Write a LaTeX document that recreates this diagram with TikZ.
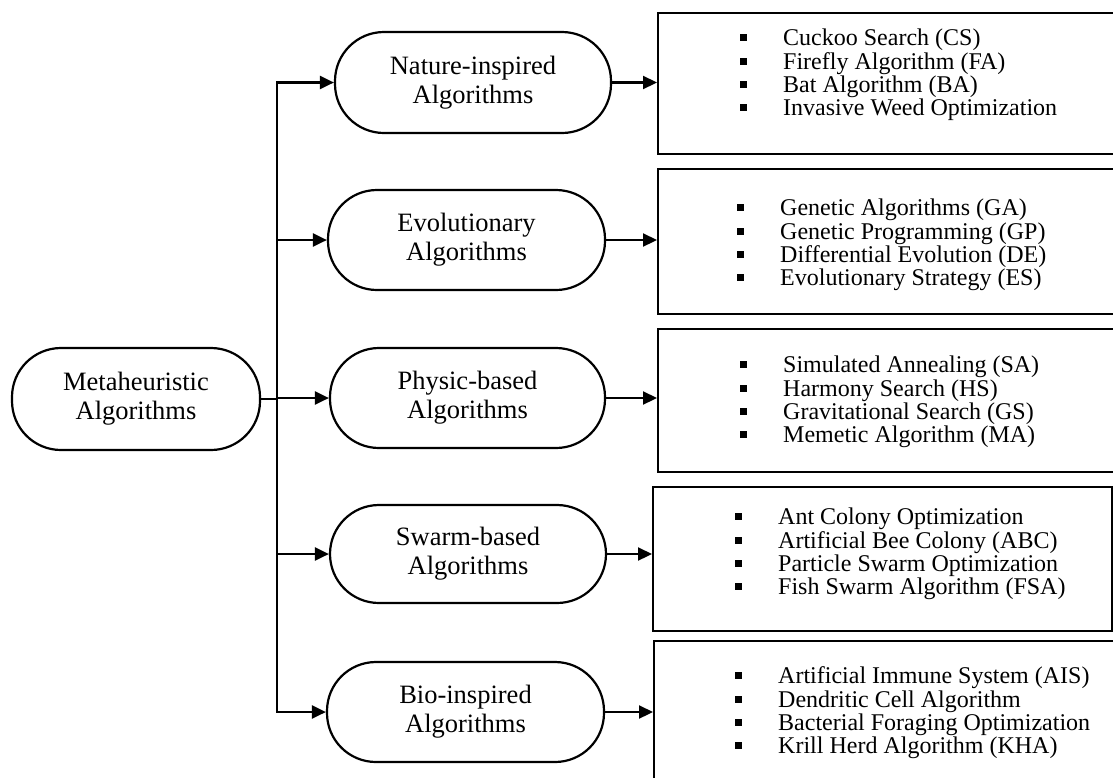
\documentclass[tikz,border=0pt]{standalone}
\usepackage{fontspec}
\setmainfont{Liberation Serif}
\usetikzlibrary{arrows.meta}

% one list entry: a small filled square followed by the text
\newcommand{\sqitem}[1]{\makebox[43pt][l]{\raisebox{4.5pt}{\rule{6.5pt}{7pt}}}#1}

\begin{document}
\begin{tikzpicture}[x=1pt,y=-1pt,
  pill/.style={draw, line width=2.2pt, rounded corners=49pt,
    minimum width=276pt, minimum height=100pt, inner sep=0pt,
    align=center, font=\fontsize{26.5}{29}\selectfont},
  listbox/.style={draw, line width=2.2pt, anchor=north west, inner sep=0pt},
  items/.style={anchor=west, align=left, inner sep=0pt,
    font=\fontsize{24}{23.3}\selectfont},
  tip/.tip={Triangle[length=14pt,width=13pt]},
  link/.style={line width=2.2pt},
  arr/.style={link, -tip}]

\useasboundingbox (0,0) rectangle (1113,777);
\clip (0,0) rectangle (1113,777);

% root and category nodes
\node[pill, minimum width=248pt, minimum height=102pt] (meta) at (136,399) {Metaheuristic\\Algorithms};
\node[pill, minimum height=101pt] (nat) at (473,82.5) {Nature-inspired\\Algorithms};
\node[pill, minimum width=277pt] (evo) at (466.5,240) {Evolutionary\\Algorithms};
\node[pill, minimum width=275pt] (phy) at (467.5,398) {Physic-based\\Algorithms};
\node[pill, minimum width=276pt, minimum height=98pt] (swa) at (468,554) {Swarm-based\\Algorithms};
\node[pill, minimum width=277pt] (bio) at (465.5,712) {Bio-inspired\\Algorithms};

% example boxes
\node[listbox, minimum width=470pt, minimum height=141pt] (b1) at (657,12) {};
\node[listbox, minimum width=470pt, minimum height=145pt] (b2) at (657,168) {};
\node[listbox, minimum width=470pt, minimum height=143pt] (b3) at (657,328) {};
\node[listbox, minimum width=459pt, minimum height=144pt] (b4) at (652,486) {};
\node[listbox, minimum width=470pt, minimum height=150pt] (b5) at (653,640) {};

\node[items] (l1) at (740,75) {\sqitem{Cuckoo Search (CS)}\\\sqitem{Firefly Algorithm (FA)}\\\sqitem{Bat Algorithm (BA)}\\\sqitem{Invasive Weed Optimization}};
\node[items] (l2) at (737,245) {\sqitem{Genetic Algorithms (GA)}\\\sqitem{Genetic Programming (GP)}\\\sqitem{Differential Evolution (DE)}\\\sqitem{Evolutionary Strategy (ES)}};
\node[items] (l3) at (740,402) {\sqitem{Simulated Annealing (SA)}\\\sqitem{Harmony Search (HS)}\\\sqitem{Gravitational Search (GS)}\\\sqitem{Memetic Algorithm (MA)}};
\node[items] (l4) at (735,554) {\sqitem{Ant Colony Optimization}\\\sqitem{Artificial Bee Colony (ABC)}\\\sqitem{Particle Swarm Optimization}\\\sqitem{Fish Swarm Algorithm (FSA)}};
\node[items] (l5) at (735,713) {\sqitem{Artificial Immune System (AIS)}\\\sqitem{Dendritic Cell Algorithm}\\\sqitem{Bacterial Foraging Optimization}\\\sqitem{Krill Herd Algorithm (KHA)}};

% branching trunk
\coordinate (tr) at (277,399);
\draw[link] (meta.east) -- (meta.east -| tr);
\draw[link, tip-tip] (nat.west) -- (nat.west -| tr) -- (bio.west -| tr) -- (bio.west);
\draw[arr] (evo.west -| tr) -- (evo.west);
\draw[arr] (phy.west -| tr) -- (phy.west);
\draw[arr] (swa.west -| tr) -- (swa.west);

% category to examples
\draw[arr] (nat.east) -- (nat.east -| b1.west);
\draw[arr] (evo.east) -- (evo.east -| b2.west);
\draw[arr] (phy.east) -- (phy.east -| b3.west);
\draw[arr] (swa.east) -- (swa.east -| b4.west);
\draw[arr] (bio.east) -- (bio.east -| b5.west);
\end{tikzpicture}
\end{document}
